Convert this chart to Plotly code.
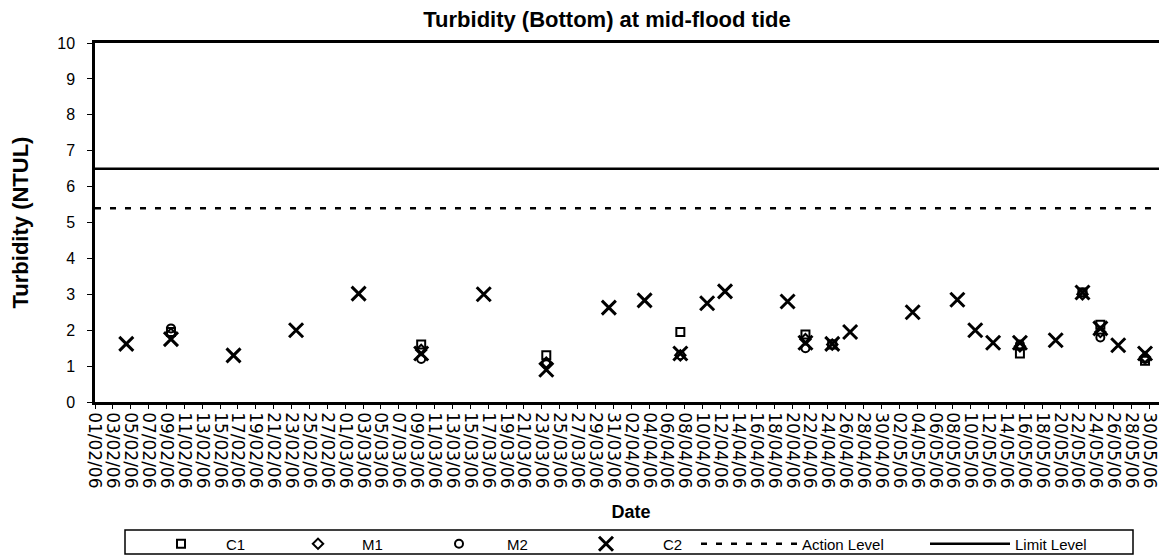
import pandas as pd
import plotly.graph_objects as go

# ---------------- data ----------------
dates = ["2006-02-04", "2006-02-09", "2006-02-16", "2006-02-23", "2006-03-02",
         "2006-03-09", "2006-03-16", "2006-03-23", "2006-03-30", "2006-04-03",
         "2006-04-07", "2006-04-10", "2006-04-12", "2006-04-19", "2006-04-21",
         "2006-04-24", "2006-04-26", "2006-05-03", "2006-05-08", "2006-05-10",
         "2006-05-12", "2006-05-15", "2006-05-19", "2006-05-22", "2006-05-24",
         "2006-05-26", "2006-05-29"]
c1 = [None, 1.95, None, None, None, 1.60, None, 1.30, None, None,
      1.95, None, None, None, 1.88, 1.60, None, None, None, None,
      None, 1.35, None, 3.05, 2.15, None, 1.15]
m1 = [None, 1.90, None, None, None, 1.45, None, 1.10, None, None,
      1.30, None, None, None, 1.75, 1.60, None, None, None, None,
      None, 1.55, None, 3.00, 1.95, None, 1.25]
m2 = [None, 2.05, None, None, None, 1.20, None, 1.05, None, None,
      1.30, None, None, None, 1.50, 1.60, None, None, None, None,
      None, 1.60, None, 3.05, 1.80, None, 1.20]
c2 = [1.62, 1.75, 1.30, 2.00, 3.02, 1.35, 3.00, 0.90, 2.63, 2.83,
      1.35, 2.75, 3.08, 2.80, 1.65, 1.62, 1.95, 2.50, 2.85, 2.00,
      1.65, 1.65, 1.72, 3.05, 2.05, 1.58, 1.35]
action_level = 5.4
limit_level = 6.5

axis_start = "2006-02-01"
axis_end = "2006-05-31 23:00"
tick_dates = pd.date_range("2006-02-01", "2006-05-30", freq="2D")
tick_labels = [d.strftime("%d/%m/%y") for d in tick_dates]

# points sit in the middle of their day slot
x_pts = pd.to_datetime(dates) + pd.Timedelta(hours=12)

FONT = "Liberation Sans, Arial, sans-serif"
PAGE = 8                      # default page margin around the figure
W, H = 1167 - PAGE, 555 - PAGE

fig = go.Figure()

series = [
    ("C1", c1, dict(symbol="square-open", size=8, color="black", line=dict(width=2, color="black")), "legend"),
    ("M1", m1, dict(symbol="diamond-open", size=8, color="black", line=dict(width=2, color="black")), "legend2"),
    ("M2", m2, dict(symbol="circle-open", size=8, color="black", line=dict(width=2, color="black")), "legend3"),
    ("C2", c2, dict(symbol="x-thin-open", size=14, color="black", line=dict(width=3, color="black")), "legend4"),
]
for name, vals, mk, lg in series:
    fig.add_trace(go.Scatter(x=x_pts, y=vals, mode="markers", name=name,
                             marker=mk, legend=lg, cliponaxis=False))

fig.add_trace(go.Scatter(x=[axis_start, axis_end], y=[action_level, action_level],
                         mode="lines", name="Action Level", legend="legend5",
                         line=dict(color="black", width=2.5, dash="6px,9px")))
fig.add_trace(go.Scatter(x=[axis_start, axis_end], y=[limit_level, limit_level],
                         mode="lines", name="Limit Level", legend="legend6",
                         line=dict(color="black", width=2.5)))

def leg(px_left, iw=30):
    return dict(x=px_left / W, y=1 - 536 / H, xref="container", yref="container",
                xanchor="left", yanchor="middle", orientation="h",
                bgcolor="rgba(0,0,0,0)", borderwidth=0, itemwidth=iw,
                font=dict(family=FONT, size=15, color="black"))

# plot area in screen pixels, converted to figure pixels
plot_l, plot_r, plot_t, plot_b = 95 - PAGE, 1167 - PAGE, 43 - PAGE, 402 - PAGE

fig.update_layout(
    width=W, height=H,
    margin=dict(l=plot_l, r=W - plot_r, t=plot_t, b=H - plot_b, autoexpand=False),
    paper_bgcolor="white", plot_bgcolor="white",
    showlegend=True,
    title=dict(text="<b>Turbidity (Bottom) at mid-flood tide</b>",
               x=(607 - PAGE) / W, xref="container", xanchor="center",
               y=1 - (19 - PAGE) / H, yref="container", yanchor="middle",
               font=dict(family=FONT, size=22, color="black"), automargin=False),
    legend=leg(128, 80), legend2=leg(266, 78), legend3=leg(403, 86), legend4=leg(541, 104),
    legend5=leg(688, 96), legend6=leg(917, 80),
    xaxis=dict(type="date", range=[axis_start, axis_end], automargin=False,
               tickvals=tick_dates, ticktext=tick_labels, tickangle=90,
               ticks="outside", ticklen=4, tickwidth=1, tickcolor="black",
               showline=True, linewidth=2.5, linecolor="black", mirror=True,
               showgrid=False, zeroline=False,
               tickfont=dict(family="DejaVu Sans, sans-serif", size=17, color="black"),
               title=dict(text="<b>Date</b>", standoff=18,
                          font=dict(family=FONT, size=18, color="black"))),
    yaxis=dict(range=[0, 10], dtick=1, ticks="outside", ticklen=5, tickwidth=1,
               tickcolor="black", showline=True, linewidth=2.5, linecolor="black",
               showgrid=False, zeroline=False, ticklabelstandoff=9, automargin=False,
               tickfont=dict(family=FONT, size=16, color="black"),
               title=dict(text="<b>Turbidity (NTUL)</b>", standoff=24,
                          font=dict(family=FONT, size=22, color="black"))),
)

# legend frame
def px_to_paper_x(px):
    return (px - PAGE - plot_l) / (plot_r - plot_l)

def px_to_paper_y(py):
    return (plot_b - (py - PAGE)) / (plot_b - plot_t)

fig.add_shape(type="rect", xref="paper", yref="paper",
              x0=px_to_paper_x(125), x1=px_to_paper_x(1133),
              y0=px_to_paper_y(530), y1=px_to_paper_y(554),
              line=dict(color="black", width=1.5), fillcolor="rgba(0,0,0,0)")

fig.write_html("out.html")
